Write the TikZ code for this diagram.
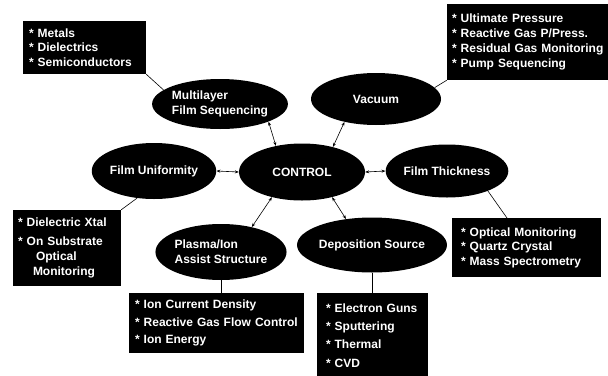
\documentclass[tikz,border=0pt]{standalone}
\usepackage{fontspec}
\setmainfont{Liberation Sans}
\usetikzlibrary{shapes.geometric,arrows.meta}
\begin{document}
\begin{tikzpicture}[x=1pt,y=-1pt,
  ell/.style={ellipse, fill=black, text=white, inner sep=0pt, align=left,
    font=\bfseries\fontsize{12}{15}\selectfont},
  infobox/.style={rectangle, fill=black, text=white, inner ysep=0pt, inner xsep=6pt,
    align=left, font=\bfseries\fontsize{12}{14.5}\selectfont},
  link/.style={draw=black, line width=0.6pt},
  arr/.style={link, {Stealth[length=4pt,width=3pt]}-{Stealth[length=4pt,width=3pt]}}]
\useasboundingbox (0,0) rectangle (608,375);

% ellipses
\node[ell, minimum width=126pt, minimum height=57pt] (control) at (302,172) {CONTROL};
\node[ell, minimum width=126pt, minimum height=50pt] (multi) at (220,104) {Multilayer\\Film Sequencing};
\node[ell, minimum width=130pt, minimum height=52pt] (vac) at (376,99) {Vacuum};
\node[ell, minimum width=124pt, minimum height=56pt] (unif) at (154,171) {Film Uniformity};
\node[ell, minimum width=116pt, minimum height=53pt] (thick) at (447,171) {Film Thickness};
\node[ell, minimum width=126pt, minimum height=56pt] (plasma) at (221,252) {Plasma/Ion\\Assist Structure};
\node[ell, minimum width=127pt, minimum height=55pt] (dep) at (372,245) {Deposition Source};

% boxes
\node[infobox, text width=111pt, minimum height=53pt] (mbox) at (84.5,47.5)
  {* Metals\\{}* Dielectrics\\{}* Semiconductors};
\node[infobox, inner xsep=5pt, text width=153pt, minimum height=76pt,
  font=\bfseries\fontsize{12}{15}\selectfont] (vbox) at (528.5,42)
  {* Ultimate Pressure\\{}* Reactive Gas P/Press.\\{}* Residual Gas Monitoring\\{}* Pump Sequencing};
\node[infobox, inner xsep=5pt, text width=98pt, minimum height=76pt,
  font=\bfseries\fontsize{12}{15}\selectfont] (ubox) at (67,248)
  {* Dielectric Xtal\\[4pt]{}* On Substrate\\\hspace*{18pt}Optical\\\hspace*{15pt}Monitoring};
\node[infobox, text width=163pt, minimum height=60pt,
  font=\bfseries\fontsize{12}{17.5}\selectfont] (pbox) at (216.5,323)
  {* Ion Current Density\\{}* Reactive Gas Flow Control\\{}* Ion Energy};
\node[infobox, inner xsep=9pt, text width=93pt, minimum height=85pt,
  font=\bfseries\fontsize{12}{18.3}\selectfont] (dbox) at (372.5,335.5)
  {* Electron Guns\\{}* Sputtering\\{}* Thermal\\{}* CVD};
\node[infobox, inner xsep=9pt, text width=131pt, minimum height=59pt] (tbox) at (526.5,247.5)
  {* Optical Monitoring\\{}* Quartz Crystal\\{}* Mass Spectrometry};

% box connectors
\draw[link] (mbox.south east) -- (multi.166);
\draw[link] (vbox.south west) -- (vac.11);
\draw[link] (ubox.north east) -- (unif.238);
\draw[link] (plasma.south) -- (plasma.south |- pbox.north);
\draw[link] (dep.south) -- (dep.south |- dbox.north);
\coordinate (tb) at (507,218);
\draw[link] (tb) -- (thick.-26);

% arrows
\draw[arr] (control.135) -- (multi.-20);
\draw[arr] (control.39) -- (vac.216);
\draw[arr] (control.west) -- (unif.east);
\draw[arr] (control.east) -- (thick.west);
\draw[arr] (control.220) -- (plasma.39);
\draw[arr] (control.-40) -- (dep.135);
\end{tikzpicture}
\end{document}
